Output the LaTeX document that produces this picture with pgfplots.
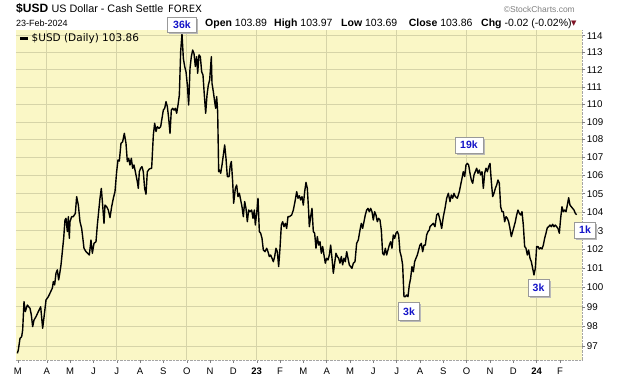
\documentclass[border=0pt]{standalone}
\usepackage{fontspec}
\setmainfont{Liberation Sans}
\newfontfamily\verd{DejaVu Sans}
\usepackage{pgfplots}
\pgfplotsset{compat=1.18}
\usetikzlibrary{shadows}
\definecolor{bgyellow}{RGB}{250,247,198}
\definecolor{gridc}{RGB}{214,212,168}
\definecolor{boxblue}{RGB}{20,20,200}
\definecolor{trired}{RGB}{128,20,40}
\begin{document}
\begin{tikzpicture}[x=1pt,y=1pt]
\path[use as bounding box] (0,0) rectangle (620,376);
\begin{axis}[
  at={(16pt,16pt)}, anchor=south west,
  scale only axis, width=566.3pt, height=330pt,
  xmin=1.683, xmax=25.956,
  ymode=log, ymin=96.30, ymax=114.34,
  axis x line*=bottom, axis y line*=right,
  axis line style={draw=gray!70, densely dotted},
  axis background/.style={fill=bgyellow},
  ytick={97,98,99,100,101,102,103,104,105,106,107,108,109,110,111,112,113,114},
  yticklabels={97,98,99,100,101,102,103,104,105,106,107,108,109,110,111,112,113,114},
  ymajorgrids,
  major grid style={gridc, line width=0.6pt, solid},
  xtick={1.76,3,4,5,6,7,8,9,10,11,12,13,14,15,16,17,18,19,20,21,22,23,24,25},
  xticklabels={M,A,M,J,J,A,S,O,N,D,\textbf{23},F,M,A,M,J,J,A,S,O,N,D,\textbf{24},F},
  extra x ticks={3,6,9,12,15,18,21,24},
  extra x tick labels={},
  extra x tick style={grid=major, major tick length=0pt},
  tick align=outside, major tick length=3pt,
  tick style={gray, line width=0.4pt, solid},
  xticklabel style={font=\fontsize{9.5}{9.5}\selectfont, anchor=north, inner sep=0pt, yshift=-4.8pt},
  yticklabel style={font=\fontsize{9.8}{9.8}\selectfont, anchor=west, inner sep=0pt, xshift=1.4pt},
  legend style={draw=none, fill=none, at={(0,1)}, anchor=north west,
    xshift=2pt, yshift=-0.5pt, inner sep=1pt,
    font=\verd\fontsize{10.5}{10.5}\selectfont},
  legend image code/.code={\draw[line width=2.5pt,black] (0pt,0pt) -- (8pt,0pt);},
]
\addplot[black, line width=1.4pt, line join=round] coordinates {
(1.740,96.63)(1.783,96.80)(1.855,97.39)(1.926,97.47)(1.969,97.81)(2.026,99.26)(2.083,98.75)
(2.169,99.09)(2.226,99.00)(2.283,98.92)(2.340,98.58)(2.397,97.98)(2.455,98.32)(2.540,98.49)
(2.640,98.75)(2.740,99.00)(2.826,97.90)(2.912,98.75)(2.969,99.35)(3.069,99.52)(3.169,99.78)
(3.240,99.96)(3.283,100.30)(3.340,100.13)(3.397,100.74)(3.455,100.92)(3.512,100.39)(3.569,100.82)
(3.612,101.18)(3.669,101.88)(3.726,102.59)(3.783,103.57)(3.826,103.66)(3.883,102.95)(3.926,103.75)
(3.969,102.59)(3.997,103.48)(4.069,103.75)(4.140,103.75)(4.226,103.93)(4.283,104.84)(4.355,104.38)
(4.426,103.48)(4.497,103.12)(4.540,102.68)(4.597,102.06)(4.683,101.88)(4.755,101.79)(4.826,101.70)
(4.897,102.50)(4.955,101.79)(5.026,102.32)(5.112,102.41)(5.169,103.30)(5.226,104.02)(5.283,104.75)
(5.340,105.29)(5.397,104.38)(5.455,103.39)(5.497,104.38)(5.569,104.29)(5.640,104.11)(5.712,103.70)
(5.783,104.29)(5.855,104.75)(5.926,105.11)(5.997,106.21)(6.055,106.86)(6.112,106.80)(6.183,107.79)
(6.255,107.88)(6.326,108.35)(6.397,107.79)(6.455,106.77)(6.512,106.95)(6.569,106.58)(6.626,106.95)
(6.683,106.40)(6.740,106.58)(6.826,106.03)(6.883,105.66)(6.926,105.29)(6.969,106.21)(7.026,106.40)
(7.083,106.49)(7.140,106.21)(7.197,105.29)(7.255,104.97)(7.312,106.21)(7.397,106.36)(7.497,106.40)
(7.570,108.26)(7.627,108.92)(7.684,108.45)(7.741,108.73)(7.813,108.63)(7.884,108.73)(7.941,109.20)
(7.998,109.67)(8.056,109.77)(8.113,110.15)(8.170,109.87)(8.227,109.20)(8.284,108.35)(8.341,109.67)
(8.398,109.77)(8.456,109.67)(8.513,109.77)(8.570,109.49)(8.627,109.96)(8.684,110.53)(8.741,113.06)
(8.798,114.10)(8.856,112.66)(8.913,112.18)(8.970,111.88)(9.027,111.11)(9.084,109.96)(9.141,112.07)
(9.198,112.76)(9.255,113.15)(9.313,112.95)(9.370,112.18)(9.427,112.76)(9.470,111.79)(9.527,112.86)
(9.584,112.76)(9.641,111.88)(9.698,111.69)(9.755,110.53)(9.813,109.49)(9.870,110.53)(9.927,111.11)
(9.984,111.40)(10.056,112.76)(10.084,111.21)(10.141,110.73)(10.198,110.15)(10.241,109.77)(10.284,110.44)
(10.327,109.58)(10.370,106.21)(10.413,106.30)(10.456,106.12)(10.513,106.58)(10.570,107.13)(10.627,107.70)
(10.684,106.95)(10.741,105.94)(10.813,105.94)(10.870,106.58)(10.913,106.77)(10.970,105.66)(11.013,104.48)
(11.084,105.29)(11.141,105.48)(11.198,104.84)(11.256,105.02)(11.313,104.66)(11.370,104.29)(11.427,103.75)
(11.484,104.57)(11.541,104.20)(11.598,103.48)(11.656,104.11)(11.713,104.02)(11.784,104.11)(11.841,103.66)
(11.898,104.11)(11.941,103.30)(11.998,103.93)(12.056,104.75)(12.113,102.95)(12.170,102.86)(12.227,102.59)
(12.284,101.97)(12.356,101.88)(12.427,102.06)(12.484,101.88)(12.541,101.62)(12.598,101.70)(12.656,101.53)
(12.713,101.35)(12.770,101.62)(12.827,102.06)(12.884,101.88)(12.941,101.09)(12.998,102.06)(13.056,103.30)
(13.113,103.48)(13.170,103.21)(13.227,103.39)(13.284,103.12)(13.341,103.75)(13.398,103.75)
(13.498,103.84)(13.570,104.11)(13.641,104.57)(13.713,105.11)(13.770,104.75)(13.827,104.89)(13.884,104.66)
(13.941,104.84)(13.998,104.38)(14.056,105.11)(14.113,105.62)(14.170,105.29)(14.227,104.02)(14.255,103.21)
(14.313,103.75)(14.370,104.20)(14.427,102.95)(14.484,102.86)(14.541,102.06)(14.598,102.68)(14.656,102.23)
(14.713,102.41)(14.770,101.79)(14.827,102.15)(14.884,101.70)(14.941,101.27)(14.998,101.53)(15.056,101.44)
(15.113,101.70)(15.170,102.23)(15.227,101.53)(15.284,100.74)(15.341,101.27)(15.398,101.79)(15.456,101.62)
(15.513,101.53)(15.570,101.27)(15.627,101.62)(15.684,101.18)(15.741,101.53)(15.798,101.35)(15.856,101.88)
(15.913,101.53)(15.970,101.18)(16.027,101.09)(16.084,101.00)(16.141,101.27)(16.213,101.35)(16.284,102.32)
(16.355,102.50)(16.427,103.03)(16.484,103.39)(16.541,103.12)(16.598,103.48)(16.655,103.84)(16.713,104.11)
(16.770,104.20)(16.827,104.02)(16.884,104.20)(16.941,104.02)(16.998,103.57)(17.055,104.02)(17.113,103.84)
(17.170,103.48)(17.227,103.66)(17.284,103.57)(17.341,103.03)(17.398,101.79)(17.455,101.70)(17.513,102.06)
(17.570,101.70)(17.627,101.97)(17.684,102.23)(17.741,102.41)(17.798,102.06)(17.855,102.77)(17.913,102.59)
(17.970,102.86)(18.027,102.95)(18.084,102.77)(18.141,101.88)(18.198,101.62)(18.255,101.18)(18.313,99.52)
(18.370,99.52)(18.427,99.61)(18.484,99.52)(18.541,100.13)(18.598,100.48)(18.655,101.09)(18.713,100.82)
(18.770,101.35)(18.827,101.53)(18.884,101.70)(18.941,101.97)(18.998,102.23)(19.055,102.32)(19.113,101.88)
(19.170,102.23)(19.227,102.23)(19.284,102.77)(19.341,102.95)(19.398,103.03)
(19.428,103.21)(19.499,103.30)(19.571,103.39)(19.642,103.21)(19.714,103.84)(19.785,103.93)(19.857,103.57)
(19.928,103.12)(19.999,103.75)(20.071,104.20)(20.142,104.75)(20.214,105.02)(20.285,104.57)(20.342,104.93)
(20.399,104.75)(20.457,105.02)(20.514,104.84)(20.599,104.75)(20.685,105.11)(20.742,105.48)(20.799,105.84)
(20.856,106.21)(20.914,105.94)(20.971,106.58)(21.028,106.67)(21.085,106.58)(21.142,106.12)(21.199,105.75)
(21.257,105.57)(21.314,106.03)(21.371,106.21)(21.428,106.40)(21.485,106.12)(21.542,106.30)(21.599,106.03)
(21.657,106.21)(21.714,105.29)(21.771,106.12)(21.828,106.40)(21.885,106.21)(21.942,106.49)(22.000,106.67)
(22.057,105.66)(22.114,104.84)(22.171,105.02)(22.228,105.29)(22.285,105.48)(22.342,105.75)(22.399,105.57)
(22.457,104.29)(22.514,104.02)(22.571,104.02)(22.628,103.48)(22.685,103.75)(22.742,103.66)(22.799,103.48)
(22.856,103.12)(22.913,102.68)(22.971,102.95)(23.028,103.21)(23.085,103.48)(23.142,103.84)(23.199,104.11)
(23.257,103.93)(23.314,103.84)(23.371,104.02)(23.428,103.30)(23.485,102.15)(23.542,102.06)(23.599,101.70)
(23.656,101.97)(23.714,101.53)(23.771,101.35)(23.828,101.00)(23.885,100.65)(23.942,101.00)(23.999,102.15)
(24.057,102.15)(24.114,102.02)(24.171,102.09)(24.228,102.02)(24.285,102.23)(24.342,102.59)(24.399,102.86)
(24.457,103.16)(24.514,103.21)(24.571,103.30)(24.628,103.21)(24.685,103.34)(24.742,103.21)(24.799,103.30)
(24.857,103.21)(24.914,103.12)(24.971,102.86)(25.028,103.66)(25.085,104.29)(25.142,104.02)(25.199,104.11)
(25.257,104.02)(25.314,104.38)(25.371,104.78)(25.428,104.38)(25.485,104.29)(25.542,104.20)(25.600,104.11)
(25.657,103.93)(25.714,103.86)
};
\addlegendentry{\$USD (Daily) 103.86}
\end{axis}
% header
\node[anchor=base west, inner sep=0pt, font=\bfseries\fontsize{12}{12}\selectfont] at (16,363.5) {\$USD};
\node[anchor=base west, inner sep=0pt, font=\fontsize{10.8}{10.8}\selectfont] at (51.5,363.5) {US Dollar - Cash Settle};
\node[anchor=base west, inner sep=0pt, font=\verd\fontsize{10}{10}\selectfont] at (168,363.5) {FOREX};
\node[anchor=base east, inner sep=0pt, text=gray, font=\fontsize{8.5}{8.5}\selectfont] at (575,363.5) {©StockCharts.com};
\node[anchor=base west, inner sep=0pt, font=\fontsize{9}{9}\selectfont] at (16,350) {23-Feb-2024};
\node[anchor=base west, inner sep=0pt, font=\fontsize{10.5}{10.5}\selectfont] at (205,350) {\textbf{Open} 103.89};
\node[anchor=base west, inner sep=0pt, font=\fontsize{10.5}{10.5}\selectfont] at (274,350) {\textbf{High} 103.97};
\node[anchor=base west, inner sep=0pt, font=\fontsize{10.5}{10.5}\selectfont] at (341,350) {\textbf{Low} 103.69};
\node[anchor=base west, inner sep=0pt, font=\fontsize{10.5}{10.5}\selectfont] at (408.6,350) {\textbf{Close} 103.86};
\node[anchor=base west, inner sep=0pt, font=\fontsize{10.5}{10.5}\selectfont] at (481,350) {\textbf{Chg} -0.02 (-0.02\%)};
\node[anchor=base west, inner sep=0pt, text=trired, font=\verd\fontsize{7}{7}\selectfont] at (571,350.5) {▼};
% volume boxes
\tikzset{vol/.style={draw=gray!80, fill=white, line width=0.6pt,
  drop shadow={shadow xshift=1.5pt, shadow yshift=-1.5pt, fill=gray!55, opacity=1},
  font=\bfseries\fontsize{10.5}{10.5}\selectfont, text=boxblue, inner sep=0pt}}
\node[vol, minimum width=29pt, minimum height=15pt] at (182,351.5) {36k};
\node[vol, minimum width=28pt, minimum height=16pt] at (469,231) {19k};
\node[vol, minimum width=21pt, minimum height=17.5pt] at (409,64.5) {3k};
\node[vol, minimum width=21pt, minimum height=17pt] at (538.5,88) {3k};
\node[vol, minimum width=21pt, minimum height=16pt] at (585,146) {1k};
\end{tikzpicture}
\end{document}
